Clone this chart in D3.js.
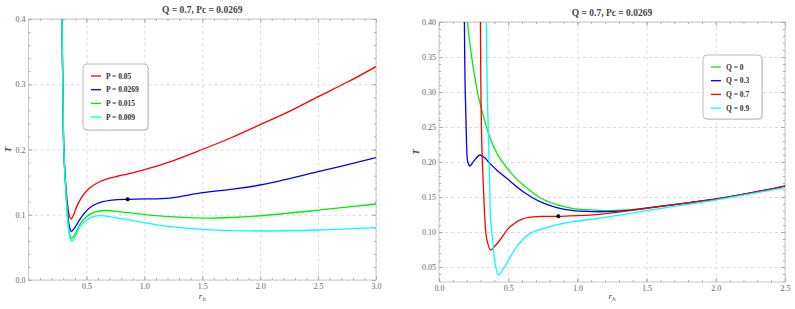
<!DOCTYPE html>
<html>
<head>
<meta charset="utf-8">
<script src="https://cdn.jsdelivr.net/npm/d3@7"></script>
<style>
  body { margin: 0; background: #fff; }
  .tick text { font-family: "Liberation Serif", serif; fill: #666; }
  .grid line { stroke: #dcdcdc; stroke-dasharray: 3,3; }
</style>
</head>
<body>
<svg id="chart" width="795" height="309"></svg>
<script>
// Left panel: T(r_h) for several pressures, Q = 0.7
var leftLabels = ["P = 0.05", "P = 0.0269", "P = 0.015", "P = 0.009"];
var leftColors = ["#ff0000", "#0000ff", "#00ee00", "#00ffff"];
var leftRed = [[0.287,0.43],[0.296,0.3],[0.305,0.2],[0.32,0.15],[0.34,0.112],[0.355,0.097],[0.368,0.0935],[0.385,0.098],[0.42,0.114],[0.46,0.127],[0.5,0.136],[0.55,0.144],[0.62,0.151],[0.7,0.156],[0.77,0.159],[0.87,0.163],[1.0,0.169],[1.22,0.181],[1.5,0.200],[1.75,0.218],[2.0,0.238],[2.27,0.26],[2.5,0.281],[2.75,0.303],[3.0,0.327]];
var leftBlue = [[0.287,0.43],[0.296,0.3],[0.305,0.2],[0.322,0.14],[0.34,0.1],[0.355,0.08],[0.37,0.0745],[0.39,0.078],[0.42,0.086],[0.45,0.095],[0.5,0.106],[0.55,0.1135],[0.62,0.119],[0.74,0.1228],[0.856,0.1237],[1.0,0.1242],[1.22,0.1255],[1.5,0.1338],[1.75,0.139],[2.0,0.1456],[2.5,0.166],[3.0,0.1875]];
var leftGreen = [[0.287,0.43],[0.296,0.3],[0.305,0.2],[0.323,0.135],[0.34,0.092],[0.355,0.07],[0.372,0.064],[0.4,0.07],[0.45,0.087],[0.5,0.097],[0.56,0.1035],[0.66,0.1065],[0.8,0.1045],[1.0,0.1005],[1.22,0.097],[1.5,0.0948],[1.75,0.0958],[2.0,0.0985],[2.5,0.107],[3.0,0.1165]];
var leftCyan = [[0.287,0.43],[0.296,0.3],[0.305,0.2],[0.324,0.13],[0.34,0.088],[0.357,0.066],[0.375,0.0598],[0.4,0.066],[0.45,0.083],[0.5,0.0915],[0.56,0.097],[0.62,0.0986],[0.75,0.0955],[1.0,0.0879],[1.22,0.0817],[1.5,0.0777],[1.75,0.0757],[2.0,0.0751],[2.5,0.0766],[3.0,0.0803]];
var leftCritical = [0.856, 0.1237];

// Right panel: T(r_h) for several charges, P = Pc
var rightLabels = ["Q = 0", "Q = 0.3", "Q = 0.7", "Q = 0.9"];
var rightColors = ["#00ee00", "#0000ff", "#ff0000", "#00ffff"];
var rightGreen = [[0.2,0.41],[0.225,0.366],[0.25,0.332],[0.28,0.298],[0.308,0.275],[0.34,0.252],[0.368,0.235],[0.42,0.212],[0.489,0.192],[0.55,0.178],[0.609,0.167],[0.73,0.149],[0.85,0.139],[0.97,0.1335],[1.09,0.1315],[1.21,0.1305],[1.35,0.1315],[1.5,0.1345],[1.75,0.1405],[2.0,0.147],[2.25,0.1555],[2.5,0.1657]];
var rightBlue = [[0.183,0.41],[0.188,0.317],[0.196,0.25],[0.2,0.222],[0.208,0.2],[0.224,0.1943],[0.25,0.201],[0.296,0.21],[0.33,0.206],[0.368,0.198],[0.42,0.188],[0.489,0.1767],[0.609,0.1576],[0.73,0.1433],[0.85,0.1348],[0.97,0.1305],[1.21,0.129],[1.35,0.1305],[1.5,0.1342],[1.75,0.1405],[2.0,0.1472],[2.25,0.1558],[2.5,0.166]];
var rightRed = [[0.299,0.41],[0.303,0.3],[0.31,0.22],[0.322,0.16],[0.332,0.117],[0.345,0.09],[0.373,0.0743],[0.4,0.079],[0.44,0.0886],[0.513,0.1076],[0.609,0.119],[0.73,0.1222],[0.862,0.1224],[1.09,0.124],[1.3,0.1283],[1.5,0.1338],[1.75,0.1403],[2.0,0.147],[2.25,0.1555],[2.5,0.1657]];
var rightCyan = [[0.342,0.41],[0.349,0.3],[0.356,0.246],[0.366,0.17],[0.373,0.117],[0.388,0.0886],[0.405,0.0552],[0.429,0.0386],[0.455,0.0445],[0.489,0.0552],[0.561,0.079],[0.658,0.098],[0.8,0.1076],[0.97,0.1147],[1.09,0.118],[1.3,0.124],[1.5,0.1305],[1.75,0.138],[2.0,0.1457],[2.25,0.1545],[2.5,0.1633]];
var rightCritical = [0.862, 0.1224];

var svg = d3.select("#chart");
var serif = "Liberation Serif, Times New Roman, serif";

function drawPanel(p) {
    var x = d3.scaleLinear().domain(p.xDomain).range([p.left, p.right]);
    var y = d3.scaleLinear().domain(p.yDomain).range([p.bottom, p.top]);
    var g = svg.append("g");
    var w = p.right - p.left, h = p.bottom - p.top;

    // dashed grid at major ticks
    g.append("g").attr("class", "grid")
        .attr("transform", "translate(0," + p.bottom + ")")
        .call(d3.axisBottom(x).tickValues(p.xTicks).tickSize(-h).tickFormat(""))
        .call(function(s) { s.select(".domain").remove(); });
    g.append("g").attr("class", "grid")
        .attr("transform", "translate(" + p.left + ",0)")
        .call(d3.axisLeft(y).tickValues(p.yTicks).tickSize(-w).tickFormat(""))
        .call(function(s) { s.select(".domain").remove(); });

    // frame
    g.append("rect").attr("x", p.left).attr("y", p.top).attr("width", w).attr("height", h)
        .attr("fill", "none").attr("stroke", "#c8c8c8").attr("stroke-width", 1);

    // ticks on all four sides, pointing in
    function ticks(axisFn, scale, vals, size, tr, fmt) {
        var a = g.append("g").attr("transform", tr)
            .call(axisFn(scale).tickValues(vals).tickSizeInner(size).tickSizeOuter(0).tickPadding(4).tickFormat(fmt));
        a.select(".domain").remove();
        a.selectAll(".tick line").attr("stroke", "#b0b0b0");
        a.selectAll(".tick text").style("font-size", "8px");
        return a;
    }
    var minorX = d3.range(p.xDomain[0], p.xDomain[1] + 1e-9, p.xMinor);
    var minorY = d3.range(Math.ceil(p.yDomain[0] / p.yMinor - 1e-9) * p.yMinor, p.yDomain[1] + 1e-9, p.yMinor);
    ticks(d3.axisBottom, x, minorX, -2, "translate(0," + p.bottom + ")", "");
    ticks(d3.axisTop, x, minorX, -2, "translate(0," + p.top + ")", "");
    ticks(d3.axisLeft, y, minorY, -2, "translate(" + p.left + ",0)", "");
    ticks(d3.axisRight, y, minorY, -2, "translate(" + p.right + ",0)", "");
    ticks(d3.axisBottom, x, p.xTicks, -4, "translate(0," + p.bottom + ")", d3.format(".1f"))
        .selectAll(".tick text").attr("y", 3);
    ticks(d3.axisTop, x, p.xTicks, -4, "translate(0," + p.top + ")", "");
    ticks(d3.axisLeft, y, p.yTicks, -4, "translate(" + p.left + ",0)", d3.format(p.yFormat))
        .selectAll(".tick text").attr("x", -3);
    ticks(d3.axisRight, y, p.yTicks, -4, "translate(" + p.right + ",0)", "");

    // curves
    var clipId = "clip" + p.id;
    svg.append("clipPath").attr("id", clipId).append("rect")
        .attr("x", p.left).attr("y", p.top).attr("width", w).attr("height", h);
    var line = d3.line()
        .x(function(d) { return x(d[0]); })
        .y(function(d) { return y(d[1]); })
        .curve(d3.curveCatmullRom.alpha(0.5));
    g.append("g").attr("clip-path", "url(#" + clipId + ")")
        .selectAll("path").data(p.series).enter().append("path")
        .attr("d", line)
        .attr("fill", "none")
        .attr("stroke", function(d, i) { return p.colors[i]; })
        .attr("stroke-width", 1.3);

    g.append("circle").attr("cx", x(p.critical[0])).attr("cy", y(p.critical[1]))
        .attr("r", 2).attr("fill", "#000");

    // title and axis labels
    g.append("text").attr("x", (p.left + p.right) / 2).attr("y", p.titleY)
        .attr("text-anchor", "middle").style("font-family", serif).style("font-size", "9.5px")
        .style("font-weight", "bold").style("fill", "#444").text("Q = 0.7, Pc = 0.0269");
    g.append("text").attr("transform", "translate(" + p.tLabelX + "," + ((p.top + p.bottom) / 2) + ") rotate(-90)")
        .attr("text-anchor", "middle").style("font-family", serif).style("font-size", "9px")
        .style("font-style", "italic").style("font-weight", "bold").style("fill", "#444").text("T");
    var rl = g.append("text").attr("x", (p.left + p.right) / 2).attr("y", 299)
        .attr("text-anchor", "middle").style("font-family", serif).style("font-size", "9px")
        .style("font-style", "italic").style("fill", "#444");
    rl.append("tspan").text("r");
    rl.append("tspan").attr("dy", 2).style("font-size", "6.5px").text("h");

    // legend
    var lg = g.append("g").attr("transform", "translate(" + p.legend[0] + "," + p.legend[1] + ")");
    lg.append("rect").attr("x", 1).attr("y", 1).attr("width", p.legend[2]).attr("height", p.legend[3])
        .attr("rx", 4).attr("fill", "#e6e6e6");
    lg.append("rect").attr("width", p.legend[2]).attr("height", p.legend[3])
        .attr("rx", 4).attr("fill", "#fff").attr("stroke", "#a8a8a8").attr("stroke-width", 0.8);
    p.labels.forEach(function(lab, i) {
        var yy = 12 + i * 13.7;
        lg.append("line").attr("x1", 8).attr("x2", 18).attr("y1", yy).attr("y2", yy)
            .attr("stroke", p.colors[i]).attr("stroke-width", 1.3);
        lg.append("text").attr("x", 23).attr("y", yy + 2.6)
            .style("font-family", serif).style("font-size", "7.5px").style("font-weight", "bold")
            .style("fill", "#333").text(lab);
    });
}

drawPanel({
    id: "L", left: 28.5, right: 376, top: 19, bottom: 280,
    xDomain: [0, 3], yDomain: [0, 0.4],
    xTicks: [0.5, 1.0, 1.5, 2.0, 2.5, 3.0], yTicks: [0, 0.1, 0.2, 0.3, 0.4],
    xMinor: 0.1, yMinor: 0.02, yFormat: ".1f",
    series: [leftRed, leftBlue, leftGreen, leftCyan], colors: leftColors, labels: leftLabels,
    critical: leftCritical, titleY: 13, tLabelX: 11,
    legend: [83, 64, 65, 66]
});

drawPanel({
    id: "R", left: 439, right: 785, top: 22, bottom: 282,
    xDomain: [0, 2.5], yDomain: [0.0286, 0.4],
    xTicks: [0, 0.5, 1.0, 1.5, 2.0, 2.5], yTicks: [0.05, 0.1, 0.15, 0.2, 0.25, 0.3, 0.35, 0.4],
    xMinor: 0.1, yMinor: 0.01, yFormat: ".2f",
    series: [rightGreen, rightBlue, rightRed, rightCyan], colors: rightColors, labels: rightLabels,
    critical: rightCritical, titleY: 16, tLabelX: 419,
    legend: [703, 55, 59, 64]
});
</script>
</body>
</html>
